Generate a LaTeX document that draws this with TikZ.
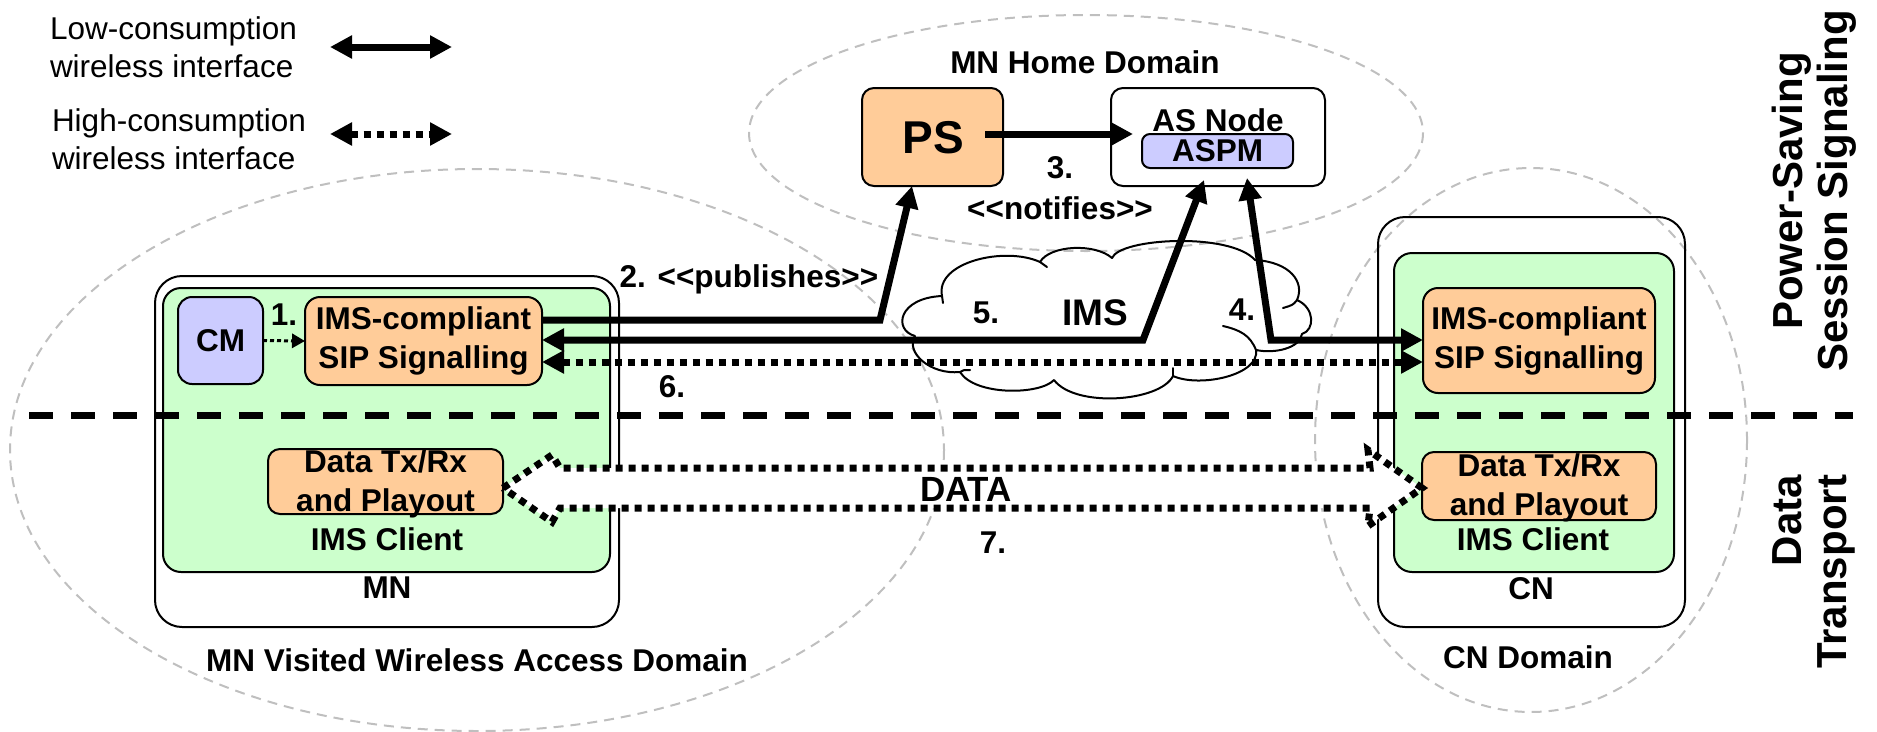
\documentclass[tikz,border=0pt]{standalone}
\usepackage{fontspec}
\setmainfont{Liberation Sans}
\usetikzlibrary{arrows.meta,calc}
\definecolor{orfill}{HTML}{FFCC99}
\definecolor{grfill}{HTML}{CCFFCC}
\definecolor{lvfill}{HTML}{CCCCFF}
\definecolor{domgray}{HTML}{BFBFBF}
\begin{document}
\begin{tikzpicture}[x=1pt,y=-1pt,
  every node/.style={inner sep=0pt, outer sep=0pt},
  >={Triangle[length=22pt,width=22pt]},
  lbl/.style={font=\bfseries\fontsize{31.5}{39}\selectfont, align=center},
  leg/.style={font=\fontsize{31.5}{38}\selectfont, align=left},
  sidelbl/.style={font=\bfseries\fontsize{42}{45}\selectfont, align=center},
  domline/.style={draw=domgray, line width=2pt, dash pattern=on 10pt off 7pt},
  bframe/.style={draw=black, line width=2pt, rounded corners=#1},
  obox/.style={bframe=#1, fill=orfill},
  cloudline/.style={draw=black, line width=2pt, line join=round, line cap=round},
  wire/.style={line width=7pt},
  dots/.style={line width=7pt, dash pattern=on 7pt off 6pt},
  thindots/.style={line width=3pt, dash pattern=on 4pt off 3pt, -{Triangle[length=13pt,width=14pt]}},
  sepline/.style={line width=7pt, dash pattern=on 24pt off 18pt}
]
\useasboundingbox (0,0) rectangle (1877,731);

% domains
\draw[domline] (1086,133) ellipse [x radius=337, y radius=118];
\draw[domline] (477,450) ellipse [x radius=467, y radius=281];
\draw[domline] (1531,440) ellipse [x radius=216, y radius=272];

% IMS cloud
\coordinate (cl1) at (915,336);
\draw[cloudline] (cl1)
  .. controls (893,330) and (898,298) .. (942,296)
  .. controls (935,262) and (1005,246) .. (1040,262)
  .. controls (1050,245) and (1095,243) .. (1112,258)
  .. controls (1120,238) and (1230,232) .. (1255,260)
  .. controls (1290,262) and (1305,282) .. (1297,300)
  .. controls (1315,308) and (1315,330) .. (1302,334)
  .. controls (1300,348) and (1275,354) .. (1256,350)
  .. controls (1260,375) and (1200,388) .. (1173,376)
  .. controls (1160,402) and (1075,408) .. (1054,380)
  .. controls (1040,395) and (975,396) .. (960,372)
  .. controls (930,375) and (905,352) .. (cl1);
\draw[cloudline] (1040,262) .. controls (1043,264) .. (1047,267);
\draw[cloudline] (1297,300) .. controls (1293,305) .. (1283,308);
\draw[cloudline] (1256,350) .. controls (1250,335) and (1240,330) .. (1223,326);
\draw[cloudline] (1173,376) -- (1173,368);
\draw[cloudline] (960,372) .. controls (963,370) .. (970,370);
\draw[cloudline] (942,296) .. controls (942,300) .. (943,303);

% legend
\node[leg, anchor=west] (leg1) at (50,47) {Low-consumption\\wireless interface};
\node[leg, anchor=west] (leg2) at (52,139) {High-consumption\\wireless interface};
\coordinate (l1a) at (330,47); \coordinate (l1b) at (452,47);
\coordinate (l2a) at (330,134); \coordinate (l2b) at (452,134);
\draw[wire,<->] (l1a) -- (l1b);
\draw[dots,<->] (l2a) -- (l2b);

% home domain
\node[lbl] (homelbl) at (1085,62) {MN Home Domain};
\node[obox=12pt, minimum width=141pt, minimum height=98pt] (PS) at (932.5,137) {};
\node[font=\bfseries\fontsize{46}{50}\selectfont] (pstxt) at (933,138) {PS};
\node[bframe=12pt, fill=white, minimum width=214pt, minimum height=98pt] (AS) at (1218,137) {};
\node[lbl] (astxt) at (1218,120) {AS Node};
\node[bframe=8pt, fill=lvfill, minimum width=151pt, minimum height=34pt, lbl] (ASPM) at (1217.5,151) {ASPM};

% MN
\node[bframe=27pt, minimum width=464pt, minimum height=351pt] (MN) at (387,451.5) {};
\node[bframe=18pt, fill=grfill, minimum width=447pt, minimum height=284pt] (MNg) at (386.5,430) {};
\node[bframe=14pt, fill=lvfill, minimum width=85pt, minimum height=87pt, lbl] (CM) at (220.5,340.5) {CM};
\node[obox=15pt, minimum width=237pt, minimum height=88pt, lbl] (MNims) at (423.5,341) {IMS-compliant\\SIP Signalling};
\node[obox=12pt, minimum width=235pt, minimum height=65pt] (MNdata) at (385.5,481.5) {};
\node[lbl] (MNdatatxt) at (385.5,484) {Data Tx/Rx\\and Playout};
\node[lbl] (MNcl) at (387,539) {IMS Client};
\node[lbl] (MNlbl) at (387,588) {MN};
\node[lbl] (MNdom) at (477,660) {MN Visited Wireless Access Domain};

% CN
\node[bframe=27pt, minimum width=307pt, minimum height=410pt] (CN) at (1531.5,422) {};
\node[bframe=18pt, fill=grfill, minimum width=280pt, minimum height=319pt] (CNg) at (1534,412.5) {};
\node[obox=15pt, minimum width=232pt, minimum height=105pt, lbl] (CNims) at (1539,340.5) {IMS-compliant\\SIP Signalling};
\node[obox=12pt, minimum width=234pt, minimum height=68pt] (CNdata) at (1539,486) {};
\node[lbl] (CNdatatxt) at (1539,488) {Data Tx/Rx\\and Playout};
\node[lbl] (CNcl) at (1533,539) {IMS Client};
\node[lbl] (CNlbl) at (1531,589) {CN};
\node[lbl] (CNdom) at (1528,657) {CN Domain};

% separator
\coordinate (sepa) at (29,415); \coordinate (sepb) at (1853,415);
\draw[sepline] (sepa) -- (sepb);

% DATA block arrow
\draw[dots, fill=white] (MNdata.east |- 0,488) -- (552,455) -- (560,468) -- (1370,468) -- (1368,450)
  -- (CNdata.west |- 0,488) -- (1368,526) -- (1370,508) -- (560,508) -- (552,522) -- cycle;
\node[font=\bfseries\fontsize{35}{40}\selectfont] (datatxt) at (966,489) {DATA};
\node[lbl] (l7) at (993,543) {7.};

% signalling arrows
\coordinate (c2) at (880,320); \coordinate (psin) at (912,186);
\coordinate (c5) at (1143,340); \coordinate (asp5) at (1204,180);
\coordinate (c4) at (1271,340); \coordinate (asp4) at (1247,178);
\coordinate (c6) at (980,362);
\coordinate (ps3) at (985,134); \coordinate (as3) at (1133,134);
\draw[wire,->] (MNims.east |- c2) -- (c2) -- (psin);
\draw[wire,<->] (MNims.east |- c5) -- (c5) -- (asp5);
\draw[wire,<->] (asp4) -- (c4) -- (CNims.west |- c4);
\draw[dots,<->] (MNims.east |- c6) -- (CNims.west |- c6);
\draw[wire,->] (ps3) -- (as3);
\draw[thindots] (CM.east) -- (MNims.west);

% labels
\node[lbl] (l1) at (284,315) {1.};
\node[lbl] (l2) at (749,279) {2. <\kern0pt<publishes>\kern0pt>};
\node[lbl] (l3) at (1060,168) {3.};
\node[lbl] (l3b) at (1060,208) {<\kern0pt<notifies>\kern0pt>};
\node[lbl] (l4) at (1242,310) {4.};
\node[lbl] (l5) at (986,313) {5.};
\node[font=\bfseries\fontsize{37}{40}\selectfont] (imstxt) at (1095,313) {IMS};
\node[lbl] (l6) at (672,387) {6.};

% side labels
\node[sidelbl, rotate=90] (pss) at (1814,191) {Power-Saving\\Session Signaling};
\node[sidelbl, rotate=90, align=right, anchor=east] (dtr) at (1814,475) {Data\\Transport};
\end{tikzpicture}
\end{document}
